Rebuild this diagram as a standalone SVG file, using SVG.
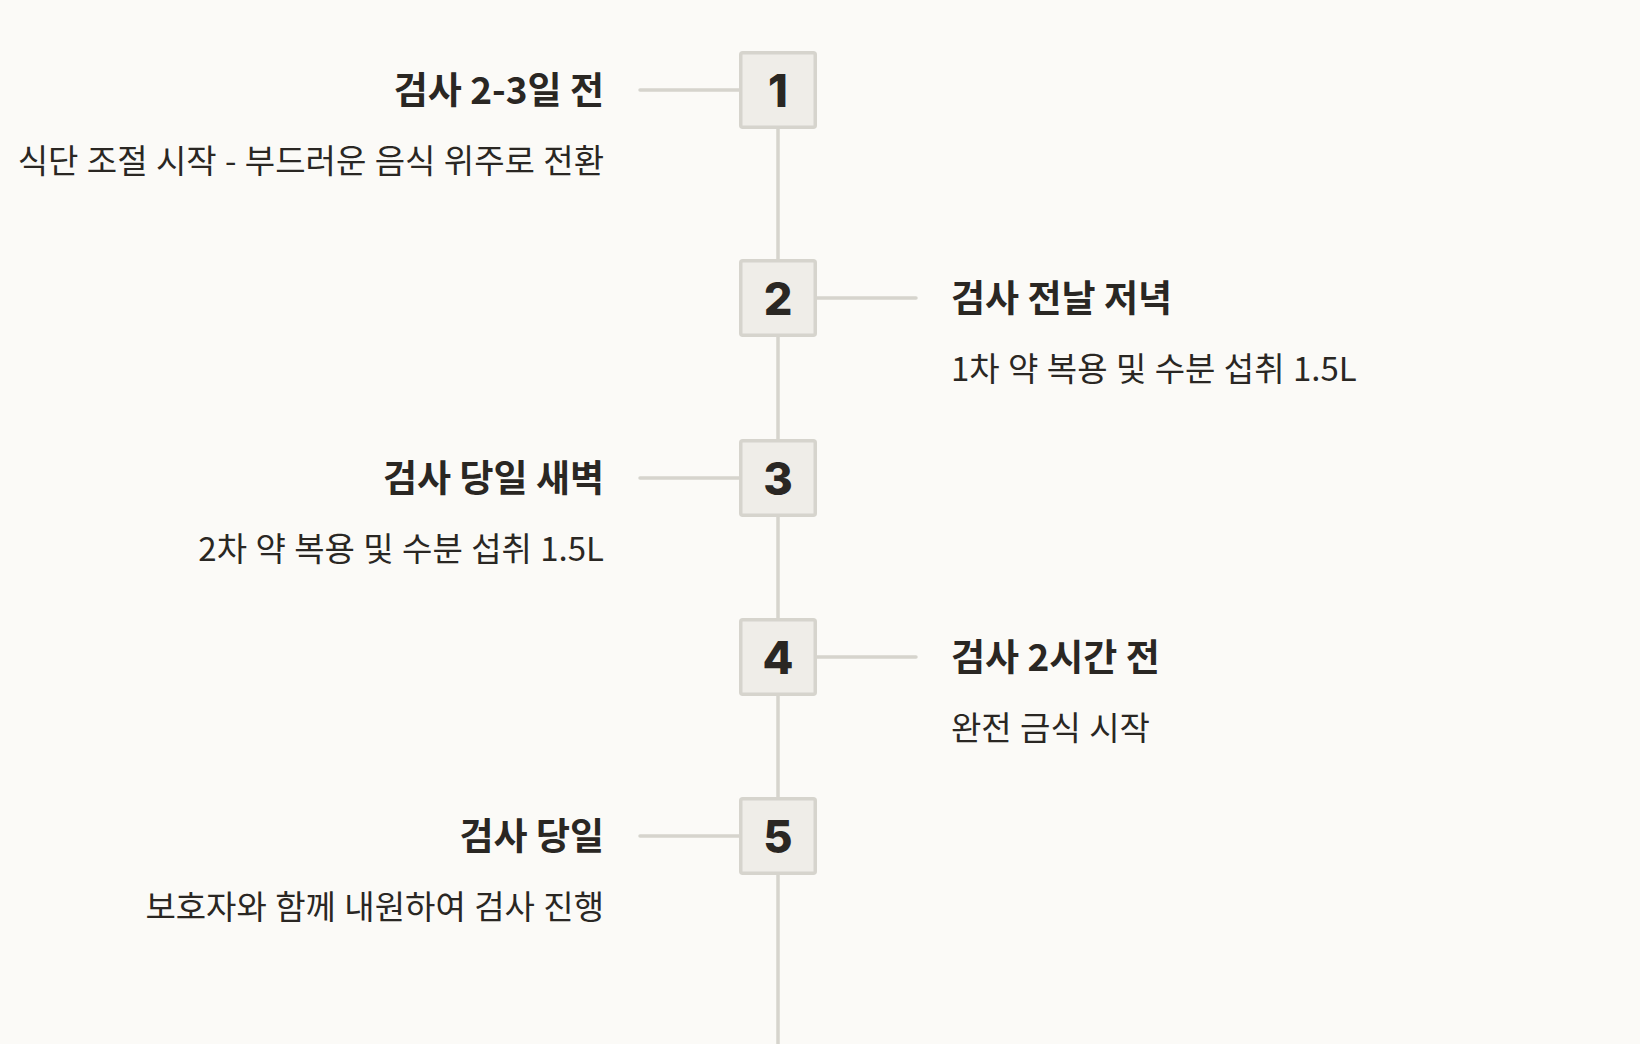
<svg xmlns="http://www.w3.org/2000/svg" width="1640" height="1044" viewBox="0 0 1640 1044">
<style>
.bg{fill:#fbfaf7}
.line{stroke:#d6d4cd;stroke-width:3.5;fill:none;stroke-linecap:round}
.box{fill:#efede8;stroke:#d6d4cd;stroke-width:3.5}
.num{font-family:Inter,"Liberation Sans",sans-serif;font-weight:800;font-size:45px;fill:#2a2723;text-anchor:middle}
.title{font-family:"Noto Sans CJK KR","Noto Sans",sans-serif;font-weight:700;font-size:37px;fill:#2a2723}
.desc{font-family:"Noto Sans CJK KR","Noto Sans",sans-serif;font-weight:400;font-size:33px;fill:#2a2723;word-spacing:1px}
.l{text-anchor:end}
.r{text-anchor:start}
</style>
<rect class="bg" x="0" y="0" width="1640" height="1044"/>
<g id="connectors">
<line class="line" x1="778" y1="90" x2="778" y2="1046" style="stroke-linecap:butt"/>
<line class="line" x1="640" y1="90" x2="740" y2="90"/>
<line class="line" x1="816" y1="298" x2="916" y2="298"/>
<line class="line" x1="640" y1="478" x2="740" y2="478"/>
<line class="line" x1="816" y1="657" x2="916" y2="657"/>
<line class="line" x1="640" y1="836" x2="740" y2="836"/>
</g>
<g id="node1">
<rect class="box" x="740.75" y="52.75" width="74.5" height="74.5" rx="2"/>
<text class="num" x="778" y="107">1</text>
<text class="title l" x="604" y="104">검사 2-3일 전</text>
<text class="desc l" x="604" y="173">식단 조절 시작 - 부드러운 음식 위주로 전환</text>
</g>
<g id="node2">
<rect class="box" x="740.75" y="260.75" width="74.5" height="74.5" rx="2"/>
<text class="num" x="778" y="315">2</text>
<text class="title r" x="951" y="312">검사 전날 저녁</text>
<text class="desc r" x="951" y="381">1차 약 복용 및 수분 섭취 1.5L</text>
</g>
<g id="node3">
<rect class="box" x="740.75" y="440.75" width="74.5" height="74.5" rx="2"/>
<text class="num" x="778" y="495">3</text>
<text class="title l" x="604" y="492">검사 당일 새벽</text>
<text class="desc l" x="604" y="561">2차 약 복용 및 수분 섭취 1.5L</text>
</g>
<g id="node4">
<rect class="box" x="740.75" y="619.75" width="74.5" height="74.5" rx="2"/>
<text class="num" x="778" y="674">4</text>
<text class="title r" x="951" y="671">검사 2시간 전</text>
<text class="desc r" x="951" y="740">완전 금식 시작</text>
</g>
<g id="node5">
<rect class="box" x="740.75" y="798.75" width="74.5" height="74.5" rx="2"/>
<text class="num" x="778" y="853">5</text>
<text class="title l" x="604" y="850">검사 당일</text>
<text class="desc l" x="604" y="919">보호자와 함께 내원하여 검사 진행</text>
</g>
</svg>
